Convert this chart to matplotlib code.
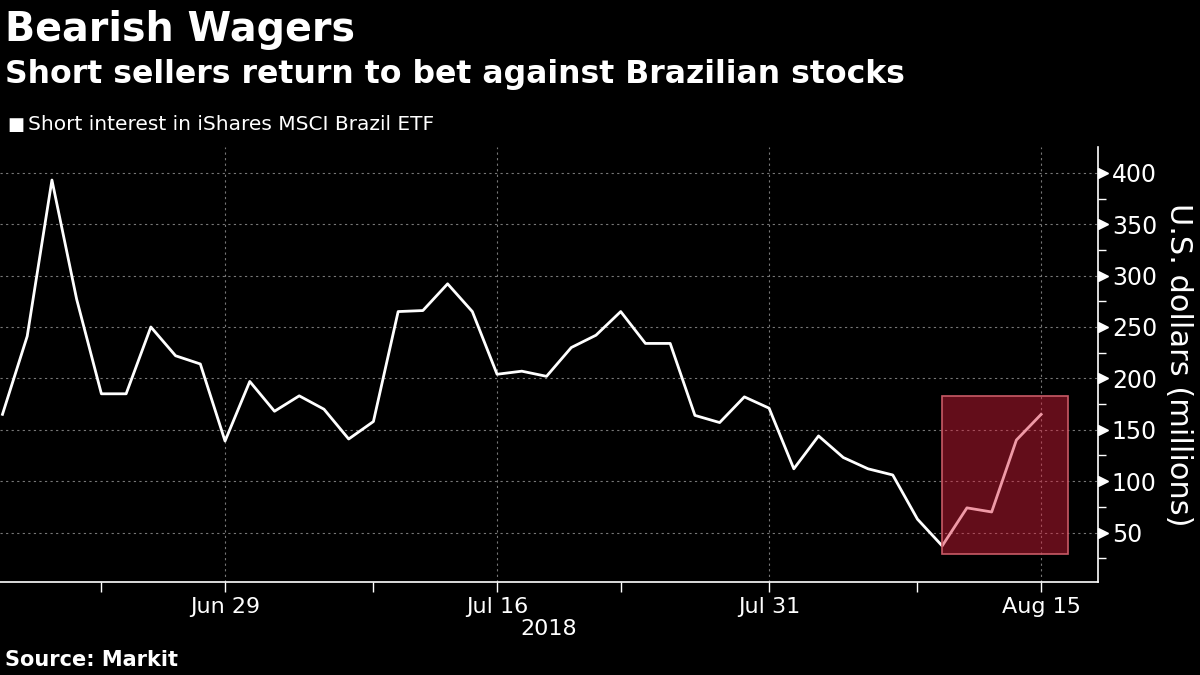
import numpy as np
import matplotlib
matplotlib.use("Agg")
from matplotlib import pyplot as plt
from matplotlib.patches import Rectangle
from matplotlib.transforms import ScaledTranslation

# trading days Jun 18 .. Aug 15 2018, short interest (US$ millions)
short_interest = [165, 241, 393, 277, 185, 185, 250, 222, 214, 139,
                  197, 168, 183, 170, 141, 158, 265, 266, 292, 265,
                  204, 207, 202, 230, 242, 265, 234, 234, 164, 157,
                  182, 171, 112, 144, 123, 112, 106, 63, 37, 74,
                  70, 140, 165]
day_idx = np.arange(len(short_interest))

major_pos = [9, 20, 31, 42]
major_labels = ["Jun 29", "Jul 16", "Jul 31", "Aug 15"]
minor_pos = [4, 15, 25, 37]
y_ticks = [50, 100, 150, 200, 250, 300, 350, 400]

# highlighted stretch at the end
hl_start, hl_end = 38, 43.1
hl_low, hl_high = 29, 183

font = ["DejaVu Sans"]

fig = plt.figure(figsize=(12, 6.75), dpi=100, facecolor="black")
ax = fig.add_axes([0.0, 0.138, 0.915, 0.644])
ax.set_facecolor("black")

ax.plot(day_idx, short_interest, color="white", lw=2, zorder=3)

ax.add_patch(Rectangle((hl_start, hl_low), hl_end - hl_start, hl_high - hl_low,
                       facecolor="#dc1e3a", alpha=0.45, edgecolor="none", zorder=4))
ax.add_patch(Rectangle((hl_start, hl_low), hl_end - hl_start, hl_high - hl_low,
                       fill=False, edgecolor="#c85a66", lw=1.2, zorder=5))

ax.set_xlim(-0.1, 44.3)
ax.set_ylim(2, 425)

ax.set_xticks(major_pos)
ax.set_xticklabels(major_labels, family=font, fontsize=16, color="white")
ax.set_xticks(minor_pos, minor=True)
ax.tick_params(axis="x", which="major", length=7, width=1, color="white", pad=4)
ax.tick_params(axis="x", which="minor", length=7, width=1, color="white")

ax.yaxis.tick_right()
ax.yaxis.set_label_position("right")
ax.set_yticks(y_ticks)
ax.set_yticklabels([str(v) for v in y_ticks], family=font, fontsize=17, color="white")
ax.set_yticks(np.arange(25, 425, 25), minor=True)
ax.tick_params(axis="y", which="major", length=0, pad=10)
ax.tick_params(axis="y", which="minor", length=6, width=1, color="white", direction="out")
# small arrow heads at the major y ticks, just right of the spine
arrow_tr = ax.get_yaxis_transform() + ScaledTranslation(3.5 / 72, 0, fig.dpi_scale_trans)
ax.plot([1.0] * len(y_ticks), y_ticks, linestyle="none", marker=">", markersize=7,
        color="white", transform=arrow_tr, clip_on=False, zorder=6)

ax.set_ylabel("U.S. dollars (millions)", family=font, fontsize=22, color="white",
              rotation=270, labelpad=26)

ax.grid(True, which="major", color="#777777", linestyle=(0, (2, 3)), lw=0.8)

for s in ["top", "left"]:
    ax.spines[s].set_visible(False)
ax.spines["bottom"].set_color("white")
ax.spines["right"].set_color("white")
ax.spines["bottom"].set_linewidth(1.2)
ax.spines["right"].set_linewidth(1.2)

ax.text(22.1, -0.085, "2018", transform=ax.get_xaxis_transform(), ha="center", va="top",
        family=font, fontsize=16, color="white")

fig.text(0.004, 0.985, "Bearish Wagers", family=font, weight="bold", fontsize=28.5,
         color="white", va="top", ha="left")
fig.text(0.004, 0.912, "Short sellers return to bet against Brazilian stocks", family=font,
         weight="bold", fontsize=22.7, color="white", va="top", ha="left")
fig.text(0.0065, 0.815, "\u25a0", family=font, fontsize=13, color="white", va="center")
fig.text(0.0235, 0.815, "Short interest in iShares MSCI Brazil ETF", family=font,
         fontsize=14.5, color="white", va="center", ha="left")
fig.text(0.004, 0.008, "Source: Markit", family=font, weight="bold", fontsize=15,
         color="white", va="bottom", ha="left")

fig.savefig("out.png", dpi=100, facecolor="black")
